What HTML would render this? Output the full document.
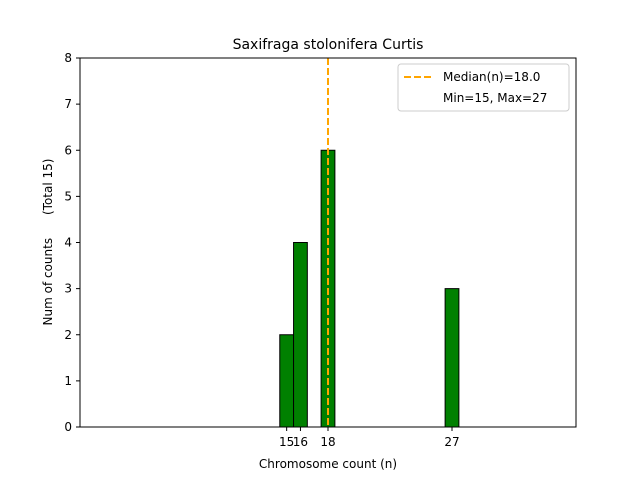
<!DOCTYPE html>
<html><head><meta charset="utf-8"><style>
body{margin:0;background:#fff;font-family:"Liberation Sans","DejaVu Sans",sans-serif;}
svg text{font-family:"DejaVu Sans","Liberation Sans",sans-serif;}
</style></head><body>
<svg id="chart" width="640" height="480" xmlns="http://www.w3.org/2000/svg">
<rect width="640" height="480" fill="#fff"/>
<text x="328" y="49" font-size="14" text-anchor="middle">Saxifraga stolonifera Curtis</text>
<g id="plot"></g>
<rect x="80" y="58" width="496" height="369" fill="none" stroke="#000" stroke-width="1"/>
<text x="328" y="468" font-size="12" text-anchor="middle">Chromosome count (n)</text>
<text transform="translate(52,242) rotate(-90)" font-size="12" text-anchor="middle" style="white-space:pre" xml:space="preserve">Num of counts      (Total 15)</text>
<g>
<rect x="398" y="64" width="171" height="47" fill="#fff" stroke="#ccc" rx="3"/>
<line x1="404" y1="77" x2="432" y2="77" stroke="orange" stroke-width="2" stroke-dasharray="7,3"/>
<text x="443" y="81" font-size="12">Median(n)=18.0</text>
<text x="443" y="102" font-size="12">Min=15, Max=27</text>
</g>
</svg>
<script>
const categories=[15,16,18,27];
const counts=[2,4,6,3];
const yTicks=[0,1,2,3,4,5,6,7,8];
const median=18.0;
const binStart=14.5, binEnd=30.5;
const X=v=>80+(v-0)*(496/36), Y=v=>427-v*(369/8);
const g=document.getElementById('plot'),NS='http://www.w3.org/2000/svg';
function mk(t,a){const e=document.createElementNS(NS,t);for(const k in a)e.setAttribute(k,a[k]);g.appendChild(e);return e;}
const base=mk('line',{x1:X(binStart),x2:X(binEnd),y1:Y(0),y2:Y(0),stroke:'#000'});


categories.forEach((c,i)=>{
 const r=mk('rect',{x:X(c-0.5),y:Y(counts[i]),width:X(c+0.5)-X(c-0.5),height:Y(0)-Y(counts[i]),fill:'green',stroke:'#000'});
 
 
 const t=mk('line',{x1:X(c),x2:X(c),y1:427,y2:431,stroke:'#000'});
 
 
 const l=mk('text',{x:X(c),y:446,'font-size':12,'text-anchor':'middle'});l.textContent=c;
 
 
});
yTicks.forEach(v=>{
 const t=mk('line',{x1:76,x2:80,y1:Y(v),y2:Y(v),stroke:'#000'});
 
 
 const l=mk('text',{x:72,y:Y(v)+4,'font-size':12,'text-anchor':'end'});l.textContent=v;
 
 
});
const m=mk('line',{x1:X(median),x2:X(median),y1:58,y2:427,stroke:'orange','stroke-width':2,'stroke-dasharray':'7,3'});


</script>
</body></html>
